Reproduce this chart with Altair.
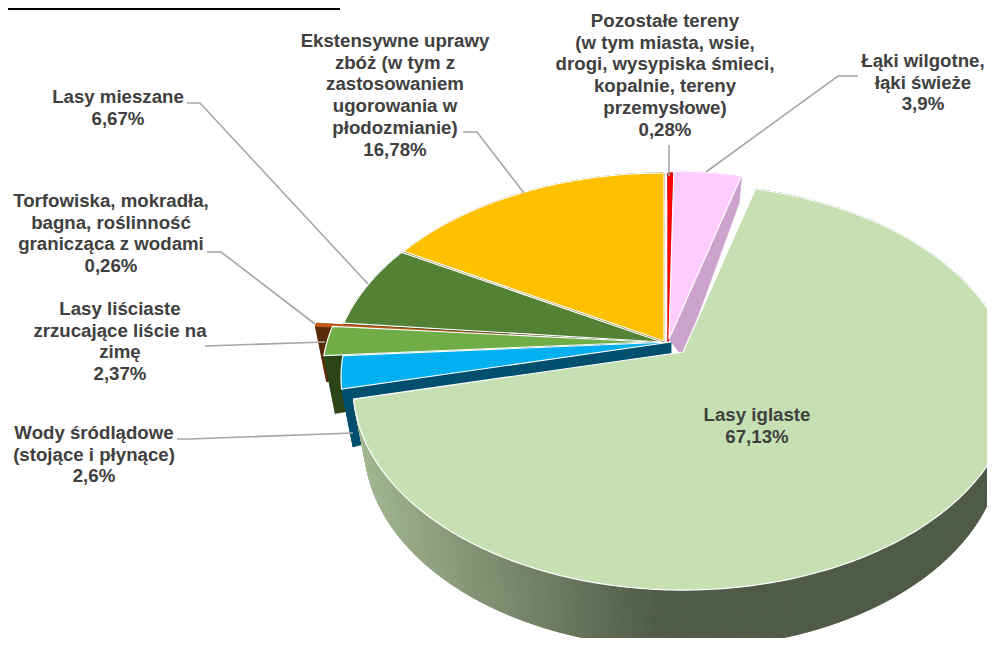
import math
import altair as alt

# ---- data (clockwise from 12 o'clock) ----
names = [
    "Pozostałe tereny\n(w tym miasta, wsie,\ndrogi, wysypiska śmieci,\nkopalnie, tereny\nprzemysłowe)",
    "Łąki wilgotne,\nłąki świeże",
    "Lasy iglaste",
    "Wody śródlądowe\n(stojące i płynące)",
    "Lasy liściaste\nzrzucające liście na\nzimę",
    "Torfowiska, mokradła,\nbagna, roślinność\ngranicząca z wodami",
    "Lasy mieszane",
    "Ekstensywne uprawy\nzbóż (w tym z\nzastosowaniem\nugorowania w\npłodozmianie)",
]
values = [0.28, 3.9, 67.13, 2.6, 2.37, 0.26, 6.67, 16.78]
top_colors = ["#FF0000", "#FFCCFF", "#C6E0B4", "#00B0F0", "#70AD47", "#C55A11", "#548235", "#FFC000"]
wall_colors = ["#990000", "#CCA3CC", "#4F5A47", "#004F6E", "#2C4619", "#5B2A08", "#2C4619", "#7F6000"]
top_strokes = ["#FF0000", "#FFFFFF", "#FFFFFF", "#FFFFFF", "#FFFFFF", "#C55A11", "#FFFFFF", "#FFFFFF"]
cut_faces = [(True, True), (True, True), (False, False), (True, True),
             (True, True), (True, True), (True, False), (True, True)]

# ---- layout of the tilted pie ----
R, S, K = 325.0, 197.0, 0.1725
apex_x = [668, 669, 683, 671, 652, 635, 662, 664]
apex_y = [341, 339, 352, 342, 342, 342, 342, 341]
apex_foot_dx = [0, 14, 0, 0, 0, 0, 0, 0]
label_x = [665, 923, 757, 94, 120, 111, 118, 395]
label_y = [21, 61, 415, 433, 309, 201, 97, 41]
draw_order = [7, 0, 1, 6, 5, 4, 3, 2]

leaders = [
    [(187, 103), (200, 103), (368, 284)],
    [(463, 132), (477, 132), (524, 193)],
    [(669, 145), (669, 176)],
    [(706, 172), (838, 76), (858, 76)],
    [(207, 252), (221, 252), (315, 324)],
    [(205, 346), (325, 342)],
    [(177, 439), (190, 439), (353, 433)],
]
LEADER = "#A6A6A6"
TEXT = "#404040"


def top_pt(i, deg):
    t = math.radians(deg)
    u, v = math.sin(t), -math.cos(t)
    w = 1 - K * v
    return (apex_x[i] + R * u / w, apex_y[i] + S * v / w)


def depth(v):
    return 58 if v >= 0 else 58 + 31 * v


def bot_pt(i, deg):
    x, y = top_pt(i, deg)
    v = -math.cos(math.radians(deg))
    return (apex_x[i] + 0.965 * (x - apex_x[i]), y + depth(v))


def feature(ring, fill, stroke, sw):
    ring = [list(p) for p in ring] + [list(ring[0])]
    return {
        "type": "Feature",
        "geometry": {"type": "Polygon", "coordinates": [ring]},
        "properties": {"fill": fill, "stroke": stroke, "sw": sw},
    }


def mix(c0, c1, t):
    a = [int(c0[j:j + 2], 16) for j in (1, 3, 5)]
    b = [int(c1[j:j + 2], 16) for j in (1, 3, 5)]
    return "#%02X%02X%02X" % tuple(round(p + (q - p) * t) for p, q in zip(a, b))


total = sum(values)
starts = [sum(values[:i]) / total * 360 for i in range(len(values))]
ends = [sum(values[:i + 1]) / total * 360 for i in range(len(values))]

features = []
for i in draw_order:
    a, b = starts[i], ends[i]
    n = max(2, int((b - a) / 0.75))
    angs = [a + (b - a) * k / n for k in range(n + 1)]
    apex = (apex_x[i], apex_y[i])
    apex_b = (apex_x[i] + apex_foot_dx[i], apex_y[i] + 18)
    for d, show in zip((a, b), cut_faces[i]):
        if show:
            features.append(feature([apex, top_pt(i, d), bot_pt(i, d), apex_b],
                                    wall_colors[i], wall_colors[i], 0.5))
    for p, q in zip(angs[:-1], angs[1:]):
        ring = [top_pt(i, p), top_pt(i, q), bot_pt(i, q), bot_pt(i, p)]
        if i == 2:
            mx = (ring[0][0] + ring[2][0]) / 2
            t = min(1, max(0, (mx - 360) / 300))
            col = mix("#A3B792", "#4F5A47", t)
        else:
            col = wall_colors[i]
        features.append(feature(ring, col, col, 1.0))
    ring = [apex] + [top_pt(i, d) for d in angs]
    sw = 1.2 if top_strokes[i] == "#FFFFFF" else 0.8
    features.append(feature(ring, top_colors[i], top_strokes[i], sw))

pie = (
    alt.Chart(alt.Data(values=features))
    .mark_geoshape(clip=True)
    .encode(
        fill=alt.Fill("properties.fill:N", scale=None),
        stroke=alt.Stroke("properties.stroke:N", scale=None),
        strokeWidth=alt.StrokeWidth("properties.sw:Q", scale=None),
    )
)

line_feats = [
    {"type": "Feature", "geometry": {"type": "LineString", "coordinates": [list(p) for p in ln]},
     "properties": {"c": LEADER}}
    for ln in leaders
]
lines = (
    alt.Chart(alt.Data(values=line_feats))
    .mark_geoshape(filled=False, stroke=LEADER, strokeWidth=1.6, clip=True)
)

top_rule = (
    alt.Chart(alt.Data(values=[{"type": "Feature",
                                "geometry": {"type": "LineString", "coordinates": [[8, 9], [340, 9]]},
                                "properties": {}}]))
    .mark_geoshape(filled=False, stroke="#000000", strokeWidth=2)
)

label_rows = [
    {"t": n + "\n" + str(v).replace(".", ",") + "%", "lon": x, "lat": y}
    for n, v, x, y in zip(names, values, label_x, label_y)
]
texts = (
    alt.Chart(alt.Data(values=label_rows))
    .mark_text(font="Liberation Sans", fontWeight="bold", fontSize=18.67, color=TEXT,
               align="center", baseline="middle", lineBreak="\n", lineHeight=21.7)
    .encode(longitude="lon:Q", latitude="lat:Q", text="t:N")
)

chart = (
    alt.layer(pie, lines, top_rule, texts)
    .project(type="identity", scale=1, translate=[-8, -8])
    .properties(width=979, height=630, padding=0, background="#FFFFFF")
    .configure_view(stroke=None)
)
chart.save("out.html", embed_options={"renderer": "svg", "actions": False})
